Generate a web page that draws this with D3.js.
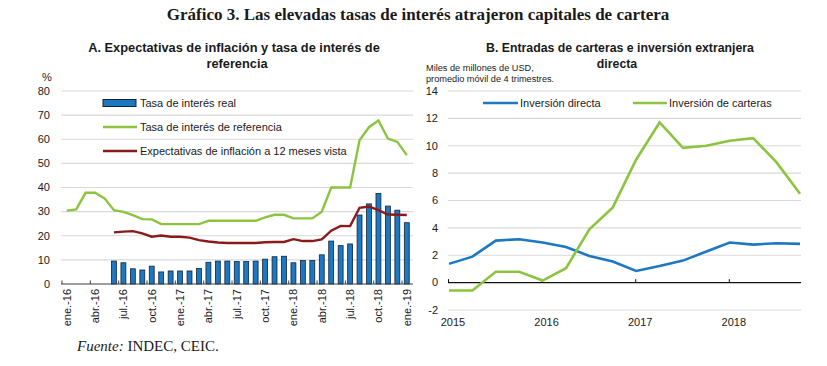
<!DOCTYPE html>
<html>
<head>
<meta charset="utf-8">
<script src="https://cdn.jsdelivr.net/npm/d3@7"></script>
<style>
  body { margin: 0; background: #fff; }
  text { font-family: "Liberation Sans", Arial, sans-serif; fill: #1a1a1a; }
</style>
</head>
<body>
<svg id="chart" width="827" height="366"></svg>
<script>
// ---- data: panel A (monthly, ene-16 .. ene-19) ----
var months = ["ene.-16","feb.-16","mar.-16","abr.-16","may.-16","jun.-16","jul.-16","ago.-16","sep.-16","oct.-16","nov.-16","dic.-16",
              "ene.-17","feb.-17","mar.-17","abr.-17","may.-17","jun.-17","jul.-17","ago.-17","sep.-17","oct.-17","nov.-17","dic.-17",
              "ene.-18","feb.-18","mar.-18","abr.-18","may.-18","jun.-18","jul.-18","ago.-18","sep.-18","oct.-18","nov.-18","dic.-18",
              "ene.-19"];

// tasa de interes real (bars), starts jun-16
var realRate = [null, null, null, null, null,
                9.5, 8.8, 6.3, 5.8, 7.4, 5.0, 5.4,
                5.4, 5.4, 6.4, 9.0, 9.5, 9.5, 9.3, 9.3, 9.5, 10.3, 11.3, 11.5,
                8.8, 9.7, 9.7, 12.1, 17.8, 15.9, 16.6, 28.6, 33.2, 37.5, 32.3, 30.6,
                25.4];

// tasa de interes de referencia (green line)
var refRate = [30.4, 30.9, 37.8, 37.8, 35.5, 30.6, 29.9, 28.5, 26.9, 26.8, 24.8, 24.8,
               24.8, 24.8, 24.8, 26.2, 26.2, 26.2, 26.2, 26.2, 26.2, 27.6, 28.7, 28.7,
               27.2, 27.2, 27.2, 30.0, 40.0, 40.0, 40.0, 59.6, 65.0, 67.8, 60.3, 58.9,
               53.4];

// expectativas de inflacion a 12 meses (dark red line), starts jun-16
var inflExp = [null, null, null, null, null,
               21.4, 21.7, 21.9, 21.0, 19.6, 20.1, 19.6,
               19.6, 19.2, 18.2, 17.6, 17.2, 17.0, 17.0, 17.0, 17.0, 17.3, 17.4, 17.4,
               18.6, 17.8, 17.8, 18.5, 22.1, 24.1, 24.0, 31.6, 32.1, 30.6, 28.8, 28.7,
               28.6];

var yTicksA = [0, 10, 20, 30, 40, 50, 60, 70, 80];

// ---- data: panel B (quarterly, 2015T1 .. 2018T4) ----
var quarters = ["2015T1","2015T2","2015T3","2015T4","2016T1","2016T2","2016T3","2016T4",
                "2017T1","2017T2","2017T3","2017T4","2018T1","2018T2","2018T3","2018T4"];
var directInv = [1.37, 1.9, 3.07, 3.17, 2.93, 2.6, 1.95, 1.54, 0.85, 1.22, 1.61, 2.27, 2.93, 2.78, 2.88, 2.83];
var portfolioInv = [-0.58, -0.58, 0.8, 0.8, 0.15, 1.05, 3.9, 5.5, 9.0, 11.7, 9.85, 10.0, 10.36, 10.56, 8.78, 6.49];
var yearLabels = ["2015", "2016", "2017", "2018"];
var yTicksB = [-2, 0, 2, 4, 6, 8, 10, 12, 14];

var green = "#8cc43f", darkRed = "#8b1a1a", blue = "#1c78c0", grid = "#d9d9d9";
var fs = "11px";   // chart text size

var svg = d3.select("#chart");

// main title
svg.append("text")
    .attr("x", 418).attr("y", 20)
    .attr("text-anchor", "middle")
    .style("font-family", "'Liberation Serif', 'Times New Roman', serif")
    .style("font-weight", "bold")
    .style("font-size", "17px")
    .text("Gráfico 3. Las elevadas tasas de interés atrajeron capitales de cartera");

// source
var src = svg.append("text")
    .attr("x", 77).attr("y", 351)
    .style("font-family", "'Liberation Serif', 'Times New Roman', serif")
    .style("font-size", "15px");
src.append("tspan").style("font-style", "italic").text("Fuente:");
src.append("tspan").text(" INDEC, CEIC.");

// =================== PANEL A ===================
var xA = d3.scaleBand().domain(months).range([62, 411.5]);
var yA = d3.scaleLinear().domain([0, 80]).range([284, 91]);
var gA = svg.append("g");

// title
gA.append("text").attr("x", 234).attr("y", 52).attr("text-anchor", "middle")
    .style("font-weight", "bold").style("font-size", "12.8px")
    .text("A. Expectativas de inflación y tasa de interés  de");
gA.append("text").attr("x", 237).attr("y", 68).attr("text-anchor", "middle")
    .style("font-weight", "bold").style("font-size", "12.8px")
    .text("referencia");

gA.append("text").attr("x", 47).attr("y", 81).attr("text-anchor", "middle")
    .style("font-size", fs).text("%");

// gridlines + y labels
gA.selectAll(".gridA")
    .data(yTicksA.filter(function(d) { return d > 0; }))
    .enter().append("line")
      .attr("x1", 61).attr("x2", 413)
      .attr("y1", function(d) { return yA(d); })
      .attr("y2", function(d) { return yA(d); })
      .attr("stroke", grid).attr("stroke-width", 1.2);

gA.selectAll(".ylabA")
    .data(yTicksA)
    .enter().append("text")
      .attr("x", 50)
      .attr("y", function(d) { return yA(d); })
      .attr("dy", "0.35em")
      .attr("text-anchor", "end")
      .style("font-size", fs)
      .text(function(d) { return d; });

// bars
var barW = xA.bandwidth() * 0.52;
gA.selectAll(".bar")
    .data(months.map(function(m, i) { return {m: m, v: realRate[i]}; }).filter(function(d) { return d.v != null; }))
    .enter().append("rect")
      .attr("x", function(d) { return xA(d.m) + (xA.bandwidth() - barW) / 2; })
      .attr("y", function(d) { return yA(d.v); })
      .attr("width", barW)
      .attr("height", function(d) { return yA(0) - yA(d.v); })
      .attr("fill", blue)
      .attr("stroke", "#13233a")
      .attr("stroke-width", 0.8);

// baseline
gA.append("line")
    .attr("x1", 61).attr("x2", 413)
    .attr("y1", yA(0)).attr("y2", yA(0))
    .attr("stroke", "#404040").attr("stroke-width", 1.2);

// tick marks every 3 months at band edges (pointing up)
var tickMonths = months.filter(function(d, i) { return i % 3 === 0; });
gA.selectAll(".tickA")
    .data(tickMonths)
    .enter().append("line")
      .attr("x1", function(d) { return xA(d); })
      .attr("x2", function(d) { return xA(d); })
      .attr("y1", yA(0)).attr("y2", yA(0) - 3.5)
      .attr("stroke", "#404040").attr("stroke-width", 1);

// rotated month labels
gA.selectAll(".xlabA")
    .data(tickMonths)
    .enter().append("text")
      .attr("transform", function(d) { return "translate(" + (xA(d) + xA.bandwidth() / 2) + "," + 289 + ") rotate(-90)"; })
      .attr("dy", "0.35em")
      .attr("text-anchor", "end")
      .style("font-size", fs)
      .text(function(d) { return d; });

// lines
var lineA = d3.line()
    .defined(function(d) { return d.v != null; })
    .x(function(d) { return xA(d.m) + xA.bandwidth() / 2; })
    .y(function(d) { return yA(d.v); });

gA.append("path")
    .datum(months.map(function(m, i) { return {m: m, v: refRate[i]}; }))
    .attr("d", lineA)
    .attr("fill", "none").attr("stroke", green).attr("stroke-width", 2.4);

gA.append("path")
    .datum(months.map(function(m, i) { return {m: m, v: inflExp[i]}; }))
    .attr("d", lineA)
    .attr("fill", "none").attr("stroke", darkRed).attr("stroke-width", 2.4);

// legend
gA.append("rect").attr("x", 103).attr("y", 99.5).attr("width", 33).attr("height", 7)
    .attr("fill", blue).attr("stroke", "#13233a").attr("stroke-width", 1);
gA.append("text").attr("x", 140).attr("y", 107).style("font-size", fs).text("Tasa de interés real");
gA.append("line").attr("x1", 103).attr("x2", 137).attr("y1", 127).attr("y2", 127)
    .attr("stroke", green).attr("stroke-width", 2.4);
gA.append("text").attr("x", 140).attr("y", 131).style("font-size", fs).text("Tasa de interés de referencia");
gA.append("line").attr("x1", 103).attr("x2", 137).attr("y1", 151).attr("y2", 151)
    .attr("stroke", darkRed).attr("stroke-width", 2.4);
gA.append("text").attr("x", 140).attr("y", 155).style("font-size", fs).text("Expectativas de inflación a 12 meses vista");

// =================== PANEL B ===================
var xB = d3.scaleLinear().domain([0, quarters.length - 1]).range([449, 800]);
var yB = d3.scaleLinear().domain([-2, 14]).range([310, 91]);
var gB = svg.append("g");

gB.append("text").attr("x", 620).attr("y", 52).attr("text-anchor", "middle")
    .style("font-weight", "bold").style("font-size", "12.3px")
    .text("B. Entradas de carteras e inversión extranjera");
gB.append("text").attr("x", 617).attr("y", 68).attr("text-anchor", "middle")
    .style("font-weight", "bold").style("font-size", "12.3px")
    .text("directa");

gB.append("text").attr("x", 426).attr("y", 71).style("font-size", "9.2px").text("Miles de millones de USD,");
gB.append("text").attr("x", 426).attr("y", 82).style("font-size", "9.2px").text("promedio móvil de 4 trimestres.");

gB.selectAll(".gridB")
    .data(yTicksB.filter(function(d) { return d !== 0; }))
    .enter().append("line")
      .attr("x1", 448).attr("x2", 801)
      .attr("y1", function(d) { return yB(d); })
      .attr("y2", function(d) { return yB(d); })
      .attr("stroke", grid).attr("stroke-width", 1.2);

gB.selectAll(".ylabB")
    .data(yTicksB)
    .enter().append("text")
      .attr("x", 438)
      .attr("y", function(d) { return yB(d); })
      .attr("dy", "0.35em")
      .attr("text-anchor", "end")
      .style("font-size", fs)
      .text(function(d) { return d; });

// zero line with yearly ticks
gB.append("line")
    .attr("x1", 448).attr("x2", 801)
    .attr("y1", yB(0)).attr("y2", yB(0))
    .attr("stroke", "#111").attr("stroke-width", 1.3);

gB.selectAll(".tickB")
    .data(yearLabels)
    .enter().append("line")
      .attr("x1", function(d, i) { return xB(i * 4) - 0.5; })
      .attr("x2", function(d, i) { return xB(i * 4) - 0.5; })
      .attr("y1", yB(0)).attr("y2", yB(0) - 3.5)
      .attr("stroke", "#111").attr("stroke-width", 1);

gB.selectAll(".xlabB")
    .data(yearLabels)
    .enter().append("text")
      .attr("x", function(d, i) { return xB(i * 4) + 4; })
      .attr("y", 326)
      .attr("text-anchor", "middle")
      .style("font-size", fs)
      .text(function(d) { return d; });

var lineB = d3.line()
    .x(function(d, i) { return xB(i); })
    .y(function(d) { return yB(d); });

gB.append("path").datum(directInv).attr("d", lineB)
    .attr("fill", "none").attr("stroke", blue).attr("stroke-width", 2.6);
gB.append("path").datum(portfolioInv).attr("d", lineB)
    .attr("fill", "none").attr("stroke", green).attr("stroke-width", 2.6);

// legend
gB.append("line").attr("x1", 483).attr("x2", 518).attr("y1", 103).attr("y2", 103)
    .attr("stroke", blue).attr("stroke-width", 2.6);
gB.append("text").attr("x", 520).attr("y", 107).style("font-size", fs).text("Inversión directa");
gB.append("line").attr("x1", 633).attr("x2", 667).attr("y1", 103).attr("y2", 103)
    .attr("stroke", green).attr("stroke-width", 2.6);
gB.append("text").attr("x", 669).attr("y", 107).style("font-size", fs).text("Inversión de carteras");
</script>
</body>
</html>
